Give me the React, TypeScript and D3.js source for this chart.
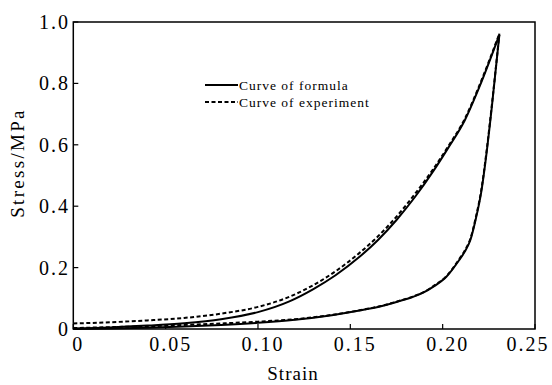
import React from "react";
import * as d3 from "d3";

const xTicks = [0, 0.05, 0.1, 0.15, 0.2, 0.25];
const xTickLabels = ["0", "0.05", "0.10", "0.15", "0.20", "0.25"];
const yTicks = [0, 0.2, 0.4, 0.6, 0.8, 1.0];
const yTickLabels = ["0", "0.2", "0.4", "0.6", "0.8", "1.0"];

// Loading branch (lower)
const loadStrain = [0, 0.02, 0.04, 0.06, 0.08, 0.1, 0.12, 0.14, 0.155, 0.166, 0.175, 0.184, 0.19, 0.195, 0.202, 0.209, 0.212, 0.215, 0.218, 0.221, 0.2235, 0.2265, 0.2307];
const loadFormula = [0, 0.002, 0.004, 0.008, 0.013, 0.02, 0.03, 0.045, 0.06, 0.073, 0.088, 0.105, 0.12, 0.138, 0.17, 0.225, 0.252, 0.29, 0.36, 0.45, 0.56, 0.716, 0.958];
const loadExperiment = [0.003, 0.006, 0.009, 0.013, 0.018, 0.024, 0.032, 0.046, 0.061, 0.074, 0.089, 0.106, 0.121, 0.14, 0.172, 0.228, 0.256, 0.294, 0.365, 0.456, 0.566, 0.722, 0.962];

// Unloading branch (upper)
const unloadStrain = [0, 0.02, 0.04, 0.06, 0.08, 0.1, 0.117, 0.13, 0.142, 0.155, 0.165, 0.175, 0.185, 0.195, 0.203, 0.212, 0.22, 0.2307];
const unloadFormula = [0.002, 0.005, 0.011, 0.019, 0.032, 0.055, 0.09, 0.13, 0.175, 0.235, 0.29, 0.355, 0.43, 0.515, 0.59, 0.68, 0.79, 0.958];
const unloadExperiment = [0.018, 0.022, 0.028, 0.036, 0.05, 0.072, 0.105, 0.143, 0.188, 0.248, 0.302, 0.366, 0.44, 0.522, 0.595, 0.685, 0.795, 0.962];

const legendLabels = ["Curve of formula", "Curve of experiment"];

const W = 552, H = 385;
const L = 73.3, R = 535, T = 22, B = 329;
const font = "'Liberation Serif', 'Times New Roman', serif";

export default function App() {
  const x = d3.scaleLinear().domain([0, 0.25]).range([L, R]);
  const y = d3.scaleLinear().domain([0, 1]).range([B, T]);
  const line = d3.line<[number, number]>().x(d => x(d[0])).y(d => y(d[1])).curve(d3.curveMonotoneX);
  const zip = (a: number[], b: number[]) => a.map((v, i) => [v, b[i]] as [number, number]);
  const series = [
    { d: zip(loadStrain, loadFormula), dash: undefined },
    { d: zip(unloadStrain, unloadFormula), dash: undefined },
    { d: zip(loadStrain, loadExperiment), dash: "4,2.5" },
    { d: zip(unloadStrain, unloadExperiment), dash: "4,2.5" },
  ];
  return (
    <svg width={W} height={H} style={{ position: "absolute", left: 0, top: 0, background: "#fff" }}>
      <rect x={0} y={0} width={W} height={H} fill="#fff" />
      {series.map((s, i) => (
        <path key={i} d={line(s.d) || ""} fill="none" stroke="#000" strokeWidth={2} strokeDasharray={s.dash} />
      ))}
      <rect x={L} y={T} width={R - L} height={B - T} fill="none" stroke="#000" strokeWidth={1.5} />
      {xTicks.map((t, i) => (
        <g key={i}>
          <line x1={x(t)} x2={x(t)} y1={B} y2={B - 5} stroke="#000" strokeWidth={1.2} />
          <text x={Math.min(x(t) + 5, 528)} y={351} fontFamily={font} fontSize={20} letterSpacing={2} textAnchor="middle">{xTickLabels[i]}</text>
        </g>
      ))}
      {yTicks.map((t, i) => (
        <g key={i}>
          <line x1={L} x2={L + 5} y1={y(t)} y2={y(t)} stroke="#000" strokeWidth={1.2} />
          <text x={70} y={y(t) + 7} fontFamily={font} fontSize={20} letterSpacing={2} textAnchor="end">{yTickLabels[i]}</text>
        </g>
      ))}
      <text x={293} y={380} fontFamily={font} fontSize={19} letterSpacing={1} textAnchor="middle">Strain</text>
      <text transform={`translate(24,163) rotate(-90)`} fontFamily={font} fontSize={19} letterSpacing={2.3} textAnchor="middle">Stress/MPa</text>
      {legendLabels.map((lab, i) => (
        <g key={i}>
          <line x1={205} x2={238} y1={85 + i * 17} y2={85 + i * 17} stroke="#000" strokeWidth={i === 0 ? 2 : 1.8} strokeDasharray={i === 0 ? undefined : "4,2.5"} />
          <text x={239} y={85 + i * 17 + 4.5} fontFamily={font} fontSize={13.5} letterSpacing={1}>{lab}</text>
        </g>
      ))}
    </svg>
  );
}
